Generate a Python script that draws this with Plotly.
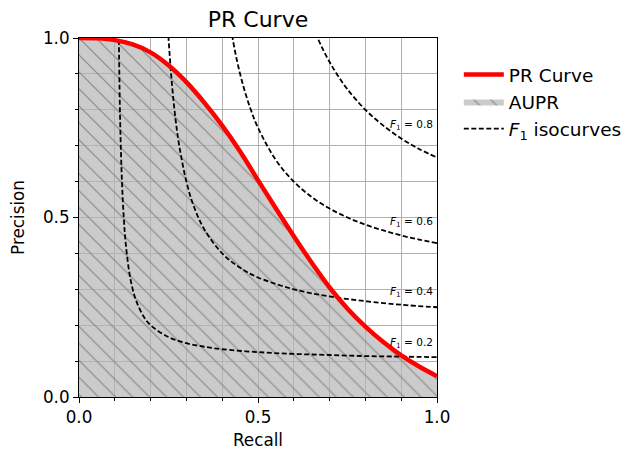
import plotly.graph_objects as go

# PR curve
recall = [0.0, 0.05, 0.1, 0.15, 0.2, 0.25, 0.3, 0.35, 0.4, 0.45, 0.5,
          0.55, 0.6, 0.65, 0.7, 0.75, 0.8, 0.85, 0.9, 0.95, 1.0]
precision = [1.0, 0.999, 0.994, 0.982, 0.96, 0.924, 0.877, 0.82, 0.756, 0.684, 0.604,
             0.525, 0.448, 0.374, 0.305, 0.246, 0.196, 0.153, 0.116, 0.085, 0.058]

# F1 isocurves
iso_r_02 = [0.11, 0.115, 0.12, 0.125, 0.13, 0.14, 0.15, 0.16, 0.18, 0.2, 0.25, 0.3, 0.35, 0.4, 0.5, 0.6, 0.7, 0.8, 0.9, 1.0]
iso_p_02 = [1.1, 0.767, 0.6, 0.5, 0.433, 0.35, 0.3, 0.267, 0.225, 0.2, 0.167, 0.15, 0.14, 0.133, 0.125, 0.12, 0.117, 0.114, 0.1125, 0.111]
iso_r_04 = [0.245, 0.25, 0.26, 0.27, 0.28, 0.3, 0.32, 0.35, 0.4, 0.45, 0.5, 0.6, 0.7, 0.8, 0.9, 1.0]
iso_p_04 = [1.089, 1.0, 0.867, 0.771, 0.7, 0.6, 0.533, 0.467, 0.4, 0.36, 0.333, 0.3, 0.28, 0.267, 0.257, 0.25]
iso_r_06 = [0.42, 0.44, 0.46, 0.48, 0.5, 0.55, 0.6, 0.65, 0.7, 0.75, 0.8, 0.85, 0.9, 0.95, 1.0]
iso_p_06 = [1.05, 0.943, 0.8625, 0.8, 0.75, 0.66, 0.6, 0.557, 0.525, 0.5, 0.48, 0.464, 0.45, 0.4385, 0.4286]
iso_r_08 = [0.66, 0.68, 0.7, 0.72, 0.75, 0.8, 0.85, 0.9, 0.95, 1.0]
iso_p_08 = [1.015, 0.971, 0.933, 0.9, 0.857, 0.8, 0.756, 0.72, 0.691, 0.667]

iso_curves = [(iso_r_02, iso_p_02), (iso_r_04, iso_p_04), (iso_r_06, iso_p_06), (iso_r_08, iso_p_08)]
iso_labels = ["0.2", "0.4", "0.6", "0.8"]
label_x = [0.87, 0.87, 0.87, 0.87]
label_y = [0.1325, 0.277, 0.47, 0.74]

tick_vals = [0.0, 0.5, 1.0]
tick_text = ["0.0", "0.5", "1.0"]

FONT = "DejaVu Sans"

fig = go.Figure()

# AUPR area
fig.add_trace(go.Scatter(
    x=recall, y=precision, mode="lines", fill="tozeroy", name="AUPR",
    line=dict(width=0, color="rgba(150,150,150,0.6)", shape="spline"),
    fillcolor="rgba(182,182,182,0.7)",
    fillpattern=dict(shape="\\", size=12, solidity=0.1,
                     fgcolor="rgba(120,120,120,0.8)",
                     bgcolor="rgba(182,182,182,0.7)", fillmode="replace"),
    showlegend=True, legendrank=2,
))

# iso curves
for i, (rr, pp) in enumerate(iso_curves):
    fig.add_trace(go.Scatter(
        x=rr, y=pp, mode="lines", name="<i>F</i><sub>1</sub> isocurves",
        line=dict(color="black", width=1.8, dash="5px,2.5px", shape="spline"),
        showlegend=(i == 0), legendrank=3,
    ))

# PR curve
fig.add_trace(go.Scatter(
    x=recall, y=precision, mode="lines", name="PR Curve",
    line=dict(color="#ff0000", width=4.5, shape="spline"),
    legendrank=1,
))

for lx, ly, lt in zip(label_x, label_y, iso_labels):
    fig.add_annotation(x=lx, y=ly, xref="x", yref="y", text=f"<i>F</i><sub>1</sub> = {lt}",
                       showarrow=False, xanchor="left", yanchor="bottom",
                       font=dict(family=FONT, size=10.5, color="black"),
                       xshift=-2, yshift=-3)

axis_common = dict(
    range=[0, 1], tickvals=tick_vals, ticktext=tick_text,
    showline=True, linecolor="black", linewidth=1, mirror=True,
    ticks="outside", ticklen=5, tickwidth=1, tickcolor="black",
    showgrid=True, gridcolor="#b0b0b0", gridwidth=1.2,
    zeroline=False, automargin=False,
    tickfont=dict(family=FONT, size=16.8, color="black"),
    minor=dict(dtick=0.1, tick0=0, ticks="outside", ticklen=3, tickwidth=0.8,
               tickcolor="black", showgrid=True, gridcolor="#b0b0b0", gridwidth=1.2),
)

fig.update_xaxes(**axis_common, title=dict(text="Recall", font=dict(family=FONT, size=16.8, color="black"), standoff=8))
fig.update_yaxes(**axis_common, title=dict(text="Precision", font=dict(family=FONT, size=16.8, color="black"), standoff=14))

fig.update_layout(
    width=638, height=453,
    margin=dict(l=79, r=200, t=38, b=56),
    paper_bgcolor="white", plot_bgcolor="white",
    title=dict(text="PR Curve", x=0.5, xref="paper", y=0.958, yref="container",
               yanchor="middle", font=dict(family=FONT, size=22, color="black")),
    legend=dict(x=1.058, y=0.95, xanchor="left", yanchor="top",
                font=dict(family=FONT, size=18.5, color="black"),
                itemwidth=40, bgcolor="rgba(0,0,0,0)"),
    font=dict(family=FONT),
)

fig.write_html("out.html", config={"displayModeBar": False},
               post_script="document.body.style.margin='0px';")
